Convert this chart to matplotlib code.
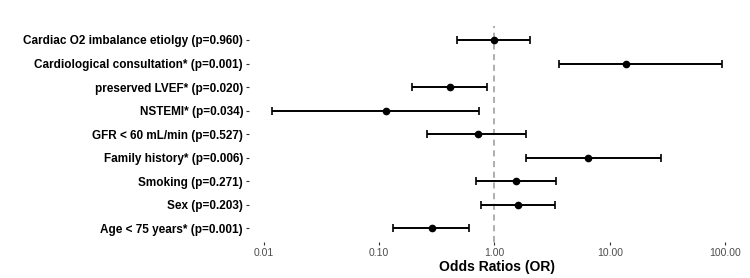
import numpy as np
import matplotlib
matplotlib.use('Agg')
import matplotlib.pyplot as plt

plt.rcParams['font.family'] = ['Liberation Sans', 'DejaVu Sans']

# rows listed top to bottom
labels = ['Cardiac O2 imbalance etiolgy (p=0.960)',
          'Cardiological consultation* (p=0.001)',
          'preserved LVEF* (p=0.020)',
          'NSTEMI* (p=0.034)',
          'GFR < 60 mL/min (p=0.527)',
          'Family history* (p=0.006)',
          'Smoking (p=0.271)',
          'Sex (p=0.203)',
          'Age < 75 years* (p=0.001)']
odds = [0.99, 13.9, 0.413, 0.115, 0.727, 6.44, 1.54, 1.59, 0.287]
ci_low = [0.475, 3.61, 0.194, 0.0118, 0.261, 1.87, 0.699, 0.771, 0.132]
ci_high = [2.05, 94.2, 0.87, 0.741, 1.87, 27.8, 3.40, 3.33, 0.604]
xticks = [0.01, 0.1, 1, 10, 100]
xticklabels = ['0.01', '0.10', '1.00', '10.00', '100.00']

fig = plt.figure(figsize=(7.5, 2.78), dpi=100)
ax = fig.add_axes([0.3325, 0.128, 0.6605, 0.779])

n = len(labels)
ypos = np.arange(n, 0, -1)
odds = np.array(odds)
lo = odds - np.array(ci_low)
hi = np.array(ci_high) - odds

ax.axvline(1, color='#999999', linestyle=(0, (4, 3)), linewidth=1.1, zorder=1)
ax.errorbar(odds, ypos, xerr=[lo, hi], fmt='o', color='black', ecolor='black',
            elinewidth=1.4, capsize=3, capthick=1.2, markersize=4.5, zorder=3)

ax.set_xscale('log')
ax.set_xlim(10 ** -2.123, 10 ** 2.169)
ax.set_ylim(0.4, n + 0.6)
ax.set_xticks(xticks)
ax.set_xticklabels(xticklabels)
ax.minorticks_off()
ax.set_yticks(ypos)
ax.set_yticklabels(labels, fontweight='bold', fontsize=8.5, color='black')
ax.tick_params(axis='x', labelsize=7.5, labelcolor='#4D4D4D', color='#333333', length=2, width=0.8, pad=2)
ax.tick_params(axis='y', color='#333333', length=2.5, width=0.8, pad=2)
for s in ax.spines.values():
    s.set_visible(False)
ax.set_xlabel('Odds Ratios (OR)', fontweight='bold', fontsize=10, labelpad=1.5)

fig.savefig('out.png', dpi=100)
